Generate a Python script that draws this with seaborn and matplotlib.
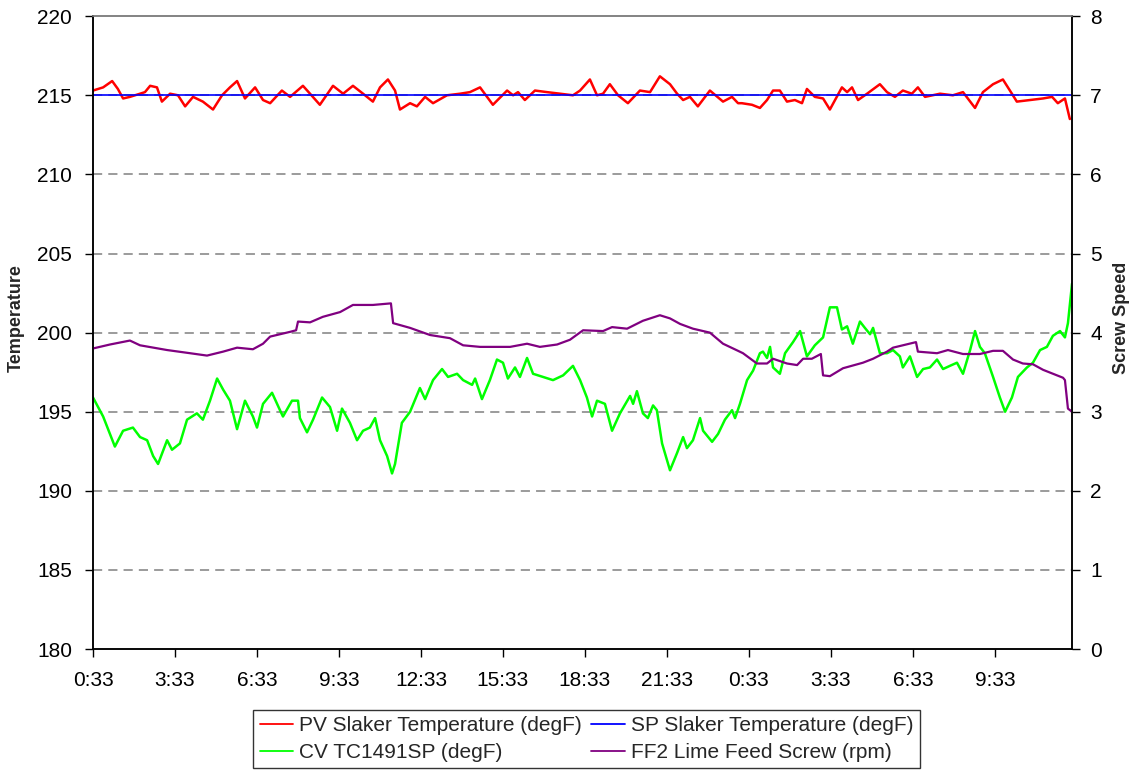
import pandas as pd
import matplotlib
matplotlib.use('Agg')
import matplotlib.pyplot as plt
import seaborn as sns

# horas desde 0:33 (inicio do registro)
pv_horas = [0, 0.37, 0.70, 0.91, 1.10, 1.35, 1.72, 1.90, 2.09, 2.34, 2.52, 2.82, 3.11, 3.37, 3.66, 4.02,
            4.39, 4.72, 5.01, 5.27, 5.56, 5.93, 6.22, 6.48, 6.91, 7.21, 7.68, 7.94, 8.30, 8.78, 9.15, 9.51,
            9.88, 10.24, 10.50, 10.79, 11.05, 11.23, 11.60, 11.85, 12.15, 12.44, 12.95, 13.43, 13.79, 14.16,
            14.63, 15.15, 15.37, 15.55, 15.80, 16.17, 16.61, 17.09, 17.56, 17.82, 18.18, 18.44, 18.66, 18.91,
            19.21, 19.57, 20.01, 20.38, 20.74, 21.11, 21.37, 21.59, 21.84, 22.13, 22.57, 23.05, 23.38, 23.60,
            23.74, 24.11, 24.40, 24.66, 24.88, 25.13, 25.39, 25.68, 25.94, 26.12, 26.41, 26.71, 26.96, 27.40,
            27.59, 27.77, 27.99, 28.32, 28.79, 29.05, 29.34, 29.63, 29.96, 30.18, 30.44, 30.99, 31.46, 31.83,
            32.27, 32.56, 32.93, 33.29, 33.62, 33.80, 34.28, 34.76, 35.09, 35.30, 35.56, 35.74]
pv_temp = [215.3, 215.5, 215.9, 215.4, 214.8, 214.9, 215.1, 215.2, 215.6, 215.5, 214.6, 215.1, 215.0, 214.3,
           214.9, 214.6, 214.1, 215.0, 215.5, 215.9, 214.8, 215.5, 214.7, 214.5, 215.3, 214.9, 215.6, 215.1,
           214.4, 215.6, 215.1, 215.6, 215.1, 214.6, 215.5, 216.0, 215.3, 214.1, 214.5, 214.3, 214.9, 214.5,
           215.0, 215.1, 215.2, 215.5, 214.4, 215.3, 215.0, 215.2, 214.7, 215.3, 215.2, 215.1, 215.0, 215.3,
           216.0, 215.0, 215.1, 215.7, 215.0, 214.5, 215.3, 215.2, 216.2, 215.7, 215.1, 214.7, 214.9, 214.3,
           215.3, 214.6, 214.9, 214.5, 214.5, 214.4, 214.2, 214.7, 215.3, 215.3, 214.6, 214.7, 214.5, 215.4,
           214.9, 214.8, 214.1, 215.5, 215.2, 215.5, 214.7, 215.1, 215.7, 215.2, 214.9, 215.3, 215.1, 215.5,
           214.9, 215.1, 215.0, 215.2, 214.2, 215.2, 215.7, 216.0, 215.1, 214.6, 214.7, 214.8, 214.9, 214.5,
           214.8, 213.5]

sp_horas = [0, 35.82]
sp_temp = [215.0, 215.0]

cv_horas = [0, 0.37, 0.80, 1.10, 1.46, 1.72, 1.98, 2.20, 2.38, 2.71, 2.89, 3.18, 3.44, 3.80, 4.02, 4.28,
            4.54, 4.76, 5.01, 5.27, 5.56, 5.85, 6.00, 6.22, 6.55, 6.84, 6.95, 7.28, 7.50, 7.57, 7.83, 8.05,
            8.38, 8.67, 8.93, 9.11, 9.40, 9.66, 9.88, 10.13, 10.32, 10.50, 10.76, 10.94, 11.05, 11.30, 11.60,
            11.96, 12.15, 12.44, 12.77, 12.99, 13.32, 13.54, 13.87, 13.98, 14.23, 14.52, 14.78, 15.00, 15.18,
            15.44, 15.62, 15.88, 16.10, 16.46, 16.83, 17.20, 17.56, 17.82, 18.07, 18.26, 18.44, 18.73, 18.99,
            19.28, 19.65, 19.76, 19.90, 20.12, 20.30, 20.49, 20.63, 20.82, 21.11, 21.37, 21.59, 21.73, 21.95,
            22.21, 22.32, 22.65, 22.87, 23.12, 23.38, 23.49, 23.67, 23.93, 24.15, 24.40, 24.51, 24.66, 24.77,
            24.88, 25.13, 25.32, 25.61, 25.87, 26.12, 26.41, 26.71, 26.96, 27.22, 27.40, 27.59, 27.80, 28.06,
            28.24, 28.43, 28.54, 28.79, 29.05, 29.27, 29.52, 29.63, 29.89, 30.15, 30.37, 30.62, 30.88, 31.10,
            31.35, 31.61, 31.83, 32.09, 32.27, 32.45, 32.63, 32.93, 33.18, 33.37, 33.62, 33.84, 34.17, 34.39,
            34.65, 34.90, 35.12, 35.38, 35.56, 35.67, 35.82]
cv_temp = [195.9, 194.7, 192.8, 193.8, 194.0, 193.4, 193.2, 192.2, 191.7, 193.2, 192.6, 193.0, 194.5, 194.9,
           194.5, 195.7, 197.1, 196.4, 195.7, 193.9, 195.7, 194.7, 194.0, 195.5, 196.2, 195.1, 194.7, 195.7,
           195.7, 194.6, 193.7, 194.5, 195.9, 195.3, 193.8, 195.2, 194.3, 193.2, 193.8, 194.0, 194.6, 193.2,
           192.2, 191.1, 191.7, 194.3, 195.0, 196.5, 195.8, 197.0, 197.7, 197.2, 197.4, 197.0, 196.7, 197.1,
           195.8, 197.0, 198.3, 198.1, 197.1, 197.8, 197.2, 198.4, 197.4, 197.2, 197.0, 197.3, 197.9, 197.0,
           195.9, 194.7, 195.7, 195.5, 193.8, 194.9, 196.0, 195.5, 196.3, 194.9, 194.6, 195.4, 195.1, 193.0,
           191.3, 192.4, 193.4, 192.7, 193.2, 194.6, 193.8, 193.1, 193.6, 194.5, 195.1, 194.6, 195.5, 197.0,
           197.6, 198.7, 198.8, 198.4, 199.1, 197.8, 197.4, 198.7, 199.4, 200.1, 198.5, 199.2, 199.7, 201.6,
           201.6, 200.2, 200.4, 199.3, 200.7, 200.3, 199.9, 200.3, 198.7, 198.7, 198.9, 198.5, 197.8, 198.5,
           197.2, 197.7, 197.8, 198.3, 197.7, 197.9, 198.1, 197.4, 198.9, 200.1, 199.1, 198.7, 197.2, 195.9,
           195.0, 195.9, 197.2, 197.8, 198.1, 198.9, 199.1, 199.8, 200.1, 199.7, 200.6, 203.1]

ff2_horas = [0, 0.62, 1.35, 1.72, 2.71, 3.55, 4.17, 4.76, 5.27, 5.85, 6.22, 6.48, 7.21, 7.43, 7.50, 7.94,
             8.41, 9.04, 9.51, 10.24, 10.90, 10.98, 11.60, 12.33, 13.06, 13.54, 14.16, 15.26, 15.88, 16.35,
             16.98, 17.45, 17.93, 18.66, 18.99, 19.54, 20.12, 20.74, 21.11, 21.48, 21.95, 22.57, 23.05, 23.60,
             23.78, 24.29, 24.66, 24.88, 25.39, 25.76, 25.98, 26.30, 26.63, 26.71, 26.96, 27.44, 28.17, 28.54,
             29.05, 29.27, 29.63, 30.11, 30.18, 30.88, 31.28, 31.83, 32.45, 32.93, 33.29, 33.66, 34.02, 34.39,
             34.76, 35.27, 35.49, 35.56, 35.67, 35.82]
ff2_rpm = [3.80, 3.85, 3.90, 3.84, 3.78, 3.74, 3.71, 3.76, 3.81, 3.79, 3.86, 3.95, 4.01, 4.03, 4.14, 4.13,
           4.20, 4.26, 4.35, 4.35, 4.37, 4.12, 4.06, 3.97, 3.93, 3.84, 3.82, 3.82, 3.86, 3.82, 3.85, 3.91,
           4.03, 4.02, 4.07, 4.05, 4.15, 4.22, 4.18, 4.11, 4.05, 4.00, 3.86, 3.77, 3.74, 3.61, 3.61, 3.67,
           3.61, 3.59, 3.67, 3.67, 3.73, 3.46, 3.45, 3.55, 3.62, 3.67, 3.76, 3.81, 3.84, 3.88, 3.76, 3.74,
           3.78, 3.73, 3.73, 3.77, 3.77, 3.66, 3.61, 3.60, 3.53, 3.46, 3.43, 3.40, 3.04, 3.00]

tick_horas = [0, 3, 6, 9, 12, 15, 18, 21, 24, 27, 30, 33]
tick_labels = ['0:33', '3:33', '6:33', '9:33', '12:33', '15:33', '18:33', '21:33',
               '0:33', '3:33', '6:33', '9:33']

sns.set_style('white')
plt.rcParams['font.family'] = ['Liberation Sans', 'DejaVu Sans']

fig = plt.figure(figsize=(11.33, 7.7), dpi=100)
ax = fig.add_axes([0.0821, 0.157, 0.8641, 0.822])
ax2 = ax.twinx()

df_pv = pd.DataFrame({'h': pv_horas, 'v': pv_temp})
df_sp = pd.DataFrame({'h': sp_horas, 'v': sp_temp})
df_cv = pd.DataFrame({'h': cv_horas, 'v': cv_temp})
df_ff = pd.DataFrame({'h': ff2_horas, 'v': ff2_rpm})

sns.lineplot(data=df_cv, x='h', y='v', ax=ax, color='#00ff00', linewidth=1.8, label='CV TC1491SP (degF)', legend=False)
sns.lineplot(data=df_pv, x='h', y='v', ax=ax, color='#ff0000', linewidth=1.8, label='PV Slaker Temperature (degF)', legend=False)
sns.lineplot(data=df_sp, x='h', y='v', ax=ax, color='#0000ff', linewidth=1.2, label='SP Slaker Temperature (degF)', legend=False)
sns.lineplot(data=df_ff, x='h', y='v', ax=ax2, color='#800080', linewidth=1.6, label='FF2 Lime Feed Screw (rpm)', legend=False)

ax.set_xlim(0, 35.82)
ax.set_ylim(180, 220)
ax2.set_ylim(0, 8)
ax.set_yticks(range(180, 221, 5))
ax2.set_yticks(range(0, 9))
ax.set_xticks(tick_horas)
ax.set_xticklabels(tick_labels)

for y in range(185, 220, 5):
    ax.axhline(y, color='#808080', linestyle=(0, (6, 4)), linewidth=1.1, zorder=0)

ax.set_xlabel('')
ax2.set_xlabel('')
ax.set_ylabel('Temperature', fontsize=13, fontweight='bold')
ax2.set_ylabel('Screw Speed', fontsize=13, fontweight='bold')
ax.yaxis.set_label_coords(-0.0695, 0.523)
ax2.yaxis.set_label_coords(1.042, 0.523)

for a in (ax, ax2):
    a.tick_params(axis='both', labelsize=15, length=6, width=1, direction='out', colors='black')
    for s in a.spines.values():
        s.set_color('black')
        s.set_linewidth(1.1)
    a.spines['top'].set_color('#808080')
ax.tick_params(axis='x', bottom=True, pad=10)
ax.tick_params(axis='y', left=True, pad=9)
ax2.tick_params(axis='y', right=True, pad=7)

h1, l1 = ax.get_legend_handles_labels()
h2, l2 = ax2.get_legend_handles_labels()
hd = dict(zip(l1 + l2, h1 + h2))
ordem = ['PV Slaker Temperature (degF)', 'CV TC1491SP (degF)',
         'SP Slaker Temperature (degF)', 'FF2 Lime Feed Screw (rpm)']
leg = fig.legend([hd[k] for k in ordem], ordem, ncol=2, loc='lower center',
                 bbox_to_anchor=(0.5177, 0.002), fontsize=15, frameon=True, fancybox=False,
                 edgecolor='black', handlelength=1.6, columnspacing=0.45, borderpad=0.3,
                 labelspacing=0.4, handletextpad=0.3, borderaxespad=0.0)
leg.get_frame().set_linewidth(1.0)
for ln in leg.get_lines():
    ln.set_linewidth(1.3)

fig.savefig('out.png', dpi=100)
